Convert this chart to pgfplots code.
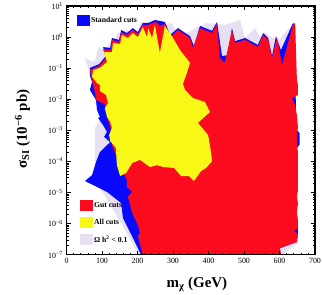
\documentclass[border=0pt]{standalone}
\usepackage{fontspec}
\setmainfont{Liberation Serif}
\usepackage{pgfplots}
\pgfplotsset{compat=1.18}
\definecolor{cLav}{RGB}{231,224,242}
\definecolor{cBlue}{RGB}{10,10,250}
\definecolor{cRed}{RGB}{250,12,30}
\definecolor{cYel}{RGB}{248,248,22}
\pgfplotsset{
  sqlegend/.style={legend image code/.code={\path[fill,draw=none] (0bp,-5.5bp) rectangle (12.5bp,5.5bp);}},
}
\begin{document}
\begin{tikzpicture}
\useasboundingbox (0,0) rectangle (322bp,295bp);
\begin{axis}[
  at={(66.5bp,40.3bp)}, anchor=south west,
  scale only axis, width=248.5bp, height=248.7bp,
  xmin=0, xmax=700, ymin=-7, ymax=1,
  axis on top,
  xtick={0,100,...,700}, minor x tick num=4,
  ytick={-7,-6,...,1},
  yticklabels={10\textsuperscript{−7},10\textsuperscript{−6},10\textsuperscript{−5},10\textsuperscript{−4},10\textsuperscript{−3},10\textsuperscript{−2},10\textsuperscript{−1},10\textsuperscript{0},10\textsuperscript{1}},
  minor ytick={-6.699,-6.523,-6.398,-6.301,-6.222,-6.155,-6.097,-6.046,
               -5.699,-5.523,-5.398,-5.301,-5.222,-5.155,-5.097,-5.046,
               -4.699,-4.523,-4.398,-4.301,-4.222,-4.155,-4.097,-4.046,
               -3.699,-3.523,-3.398,-3.301,-3.222,-3.155,-3.097,-3.046,
               -2.699,-2.523,-2.398,-2.301,-2.222,-2.155,-2.097,-2.046,
               -1.699,-1.523,-1.398,-1.301,-1.222,-1.155,-1.097,-1.046,
               -0.699,-0.523,-0.398,-0.301,-0.222,-0.155,-0.097,-0.046,
               0.301,0.477,0.602,0.699,0.778,0.845,0.903,0.954},
  tick align=inside,
  major tick length=4bp, minor tick length=2bp,
  axis line style={line width=1.3bp},
  every tick/.style={black, line width=0.5bp},
  tick label style={font=\fontsize{8}{9}\selectfont},
  /pgf/number format/assume math mode=true,
  xlabel={\textbf{m\textsubscript{χ} (GeV)}},
  ylabel={\textbf{σ\textsubscript{SI} (10\textsuperscript{−6} pb)}},
  label style={font=\fontsize{15}{17}\selectfont},
  xlabel style={at={([yshift=-30bp]axis description cs:0.525,0)}, anchor=center},
  ylabel style={at={([xshift=-44bp]axis description cs:0,0.505)}, anchor=center},
  sqlegend,
  legend style={at={(rel axis cs:0.054,0.22)}, anchor=north west, draw=none, fill=none, inner sep=0pt,
     font=\bfseries\fontsize{7.7}{9}\selectfont, row sep=6bp, nodes={inner sep=1.5bp}},
  legend cell align=left,
]
% Omega h^2 < 0.1
\addplot[fill=cLav, draw=none, forget plot] coordinates {
(201,-7) (607,-7) (655,-6.62) (646,-6.45) (646,-1.4) (643,0.40) (646,0.45) (638,0.42) (596,-0.13) (559,0.13) (545,0.00) (531,0.29) (503,-0.03) (489,0.55) (446,0.39) (424,0.42) (396,0.45) (370,0.32) (339,0.13) (311,0.16) (297,0.45) (277,0.42) (263,0.49) (235,0.49) (210,0.49) (201,0.20) (179,0.13) (168,0.29) (156,0.07) (145,0.16) (134,-0.09) (123,-0.16) (106,-0.42) (89,-0.32) (83,-0.67) (75,-0.80) (52,-0.67) (61,-0.99) (72,-1.38) (89,-2.02) (97,-2.60) (80,-2.92) (80,-3.63) (80,-4.28) (86,-4.63) (103,-5.02) (123,-5.40) (145,-5.82) (168,-6.27) (187,-6.66)
} -- cycle;
% Standard cuts
\addplot[fill=cBlue, draw=none, forget plot] coordinates {
(210,-7) (604,-7) (601,-6.79) (649,-6.59) (652,-6.30) (652,-6.10) (647,-5.9) (647,-3.6) (657,-3.45) (657,-3.10) (647,-2.95) (645,-1.4) (644,0.40) (638,0.45) (604,-0.42) (590,0.03) (579,-0.61) (568,-0.03) (554,0.13) (539,-0.25) (503,-0.03) (475,-0.13) (466,0.29) (455,-0.58) (438,-0.61) (424,0.49) (410,0.20) (376,0.36) (359,-0.29) (348,0.03) (314,0.29) (292,0.07) (277,0.49) (249,0.55) (230,0.45) (215,0.45) (201,0.16) (187,0.29) (170,0.13) (154,0.23) (148,-0.09) (128,-0.03) (123,-0.35) (103,-0.32) (111,-0.61) (92,-0.87) (66,-0.99) (66,-1.25) (72,-1.44) (66,-1.70) (83,-2.02) (86,-2.35) (94,-2.57) (89,-2.60) (103,-2.83) (114,-3.05) (106,-3.21) (123,-3.38) (94,-3.70) (83,-4.02) (72,-4.44) (52,-4.63) (114,-4.98) (154,-5.34) (159,-5.82) (173,-6.14) (187,-6.46) (201,-6.79)
} -- cycle;
% Gut cuts
\addplot[fill=cRed, draw=none, forget plot] coordinates {
(215,-7) (604,-7) (601,-6.79) (649,-6.59) (652,-6.33) (641,-6.24) (652,-6.14) (652,-5.88) (649,-5.66) (652,-5.34) (649,-5.14) (652,-4.92) (652,-3.70) (649,-3.47) (649,-3.09) (652,-2.92) (649,-2.51) (644,-2.18) (635,-1.96) (652,-1.86) (652,-1.54) (649,-1.38) (644,0.45) (638,0.39) (607,-0.90) (593,0.00) (579,-0.67) (568,-0.09) (554,0.07) (539,-0.32) (503,-0.09) (475,-0.19) (466,0.23) (446,-0.83) (432,-0.67) (424,0.42) (410,0.13) (376,0.29) (356,-0.35) (348,-0.03) (314,0.23) (292,0.00) (277,0.42) (263,0.36) (252,0.49) (235,0.42) (230,0.39) (215,0.39) (201,0.10) (187,0.23) (170,0.07) (154,0.16) (148,-0.16) (128,-0.09) (125,-0.42) (103,-0.38) (111,-0.67) (92,-0.93) (66,-1.06) (69,-1.25) (77,-1.64) (80,-1.77) (83,-2.02) (106,-2.15) (114,-2.28) (117,-2.67) (125,-2.99) (128,-3.47) (139,-3.79) (151,-4.12) (159,-4.34) (170,-4.60) (170,-4.82) (185,-4.98) (173,-5.14) (179,-5.40) (185,-5.66) (201,-6.05) (207,-6.30) (201,-6.40)
} -- cycle;
% All cuts
\addplot[fill=cYel, draw=none, forget plot] coordinates {
(75,-1.06) (94,-0.99) (114,-0.80) (106,-0.48) (128,-0.48) (131,-0.19) (151,-0.22) (156,0.07) (173,-0.03) (187,0.13) (201,0.00) (215,0.32) (227,0.00) (230,0.29) (241,-0.03) (249,0.39) (263,-0.51) (277,0.36) (297,0.03) (320,-0.42) (348,-0.83) (339,-1.16) (328,-1.51) (334,-1.70) (356,-1.96) (390,-2.09) (404,-2.41) (370,-2.76) (399,-3.15) (407,-3.70) (410,-3.99) (393,-4.21) (379,-4.31) (359,-4.63) (345,-4.47) (323,-4.47) (303,-4.21) (272,-4.18) (255,-4.12) (235,-4.18) (207,-3.95) (185,-4.05) (168,-4.37) (151,-4.47) (142,-4.12) (139,-3.57) (123,-3.34) (120,-3.15) (128,-2.92) (123,-2.73) (114,-2.57) (108,-2.28) (117,-2.12) (111,-1.86) (94,-1.73) (94,-1.54) (86,-1.48) (72,-1.28)
} -- cycle;
\addlegendimage{fill=cRed}
\addlegendentry{Gut cuts}
\addlegendimage{fill=cYel}
\addlegendentry{All cuts}
\addlegendimage{fill=cLav}
\addlegendentry{Ω h\textsuperscript{2} < 0.1}
\end{axis}
\begin{axis}[
  at={(66.5bp,40.3bp)}, anchor=south west,
  scale only axis, width=248.5bp, height=248.7bp,
  hide axis, xmin=0, xmax=1, ymin=0, ymax=1,
  sqlegend,
  legend style={at={(rel axis cs:0.042,0.964)}, anchor=north west, draw=none, fill=none, inner sep=0pt,
     font=\bfseries\fontsize{7.7}{9}\selectfont, nodes={inner sep=1.5bp}},
  legend cell align=left,
]
\addlegendimage{fill=cBlue}
\addlegendentry{Standard cuts}
\end{axis}
\end{tikzpicture}
\end{document}
